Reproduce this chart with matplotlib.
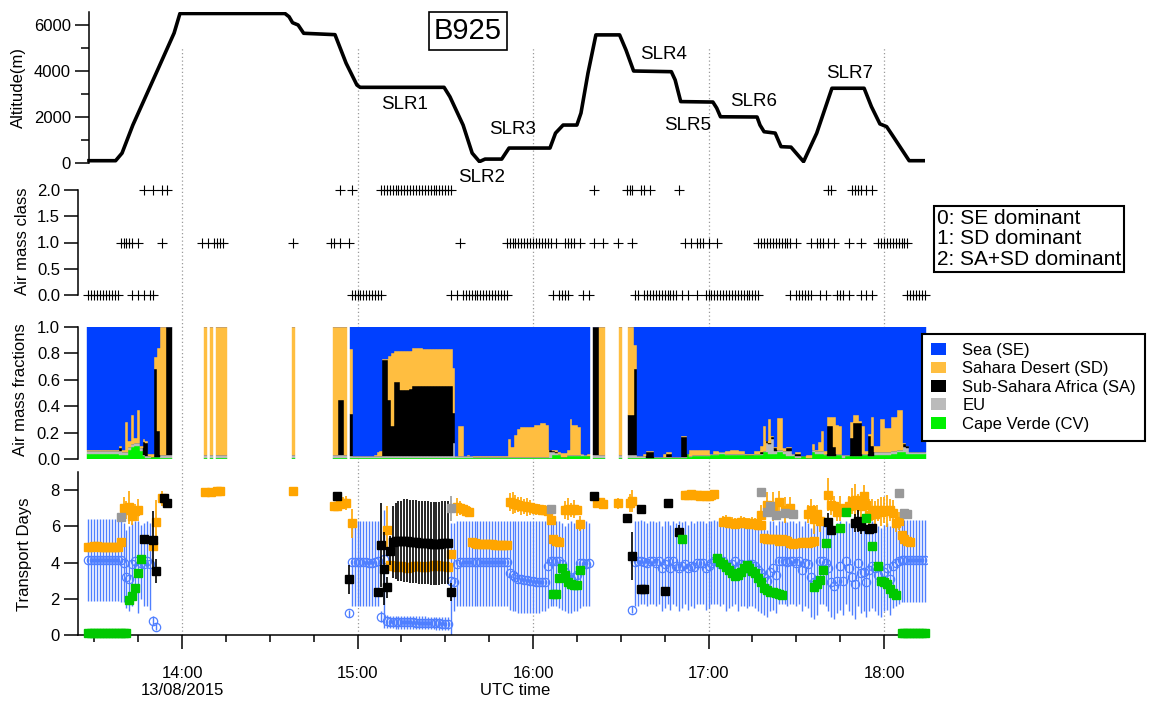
import numpy as np
import matplotlib.pyplot as plt
from matplotlib.lines import Line2D
from matplotlib.patches import Patch
from matplotlib.ticker import MultipleLocator, FormatStrFormatter
from matplotlib.transforms import blended_transform_factory

plt.rcParams['font.family'] = ['Liberation Sans', 'DejaVu Sans']
plt.rcParams['font.size'] = 12

n = np.nan

# ---- flight altitude (minutes after 13:00 UTC, metres) ----
alt_min = [28.2, 37.3, 39.5, 43.2, 52.1, 57.3, 59.3, 95.2, 96.6, 97.8, 99.7, 101.6, 112.3, 116.1,
           119.8, 120.9, 149.6, 151.6, 156.1, 159.2, 161.7, 163.6, 169.3, 171.8, 185.8, 187.7,
           190.3, 195.0, 196.4, 198.8, 201.5, 209.6, 211.8, 214.4, 227.3, 228.6, 230.5, 241.5,
           242.8, 244.1, 256.6, 257.6, 259.0, 262.8, 264.8, 268.2, 272.5, 277.0, 282.2, 293.2,
           295.7, 298.6, 300.9, 302.8, 308.6, 313.4]
alt_m = [100, 100, 430, 1650, 4170, 5650, 6500, 6500, 6360, 6100, 6000, 5640, 5580, 4340,
         3390, 3290, 3290, 2880, 1650, 430, 60, 170, 170, 650, 650, 1300,
         1650, 1650, 2170, 3910, 5570, 5570, 4910, 4000, 3970, 3610, 2670, 2650,
         2390, 2010, 2000, 1650, 1360, 1300, 710, 690, 60, 1300, 3250, 3250,
         2450, 1700, 1580, 1220, 100, 100]

# ---- air mass class (minutes after 13:00) ----
class0_min = [28, 29, 30, 31, 32, 33, 34, 35, 36, 37, 38, 43, 45, 47, 49, 50,
              118, 119, 120, 121, 122, 123, 124, 125, 126, 127, 128, 152,
              154, 156, 157, 158, 159, 160, 161, 162, 163, 164, 165, 166, 167, 168, 169, 170, 171,
              187, 189, 190, 191, 192, 197, 199, 215, 216,
              218, 219, 220, 221, 222, 223, 224, 225, 226, 227, 228, 229, 231, 233, 236, 239,
              240, 241, 242, 243, 244, 245, 246, 247, 248, 249, 250, 251, 252, 253, 254, 255, 256, 257,
              268, 270, 271, 272, 273, 274, 275, 278, 280, 284, 285, 286, 288, 292, 294, 296,
              308, 309, 310, 311, 312, 313, 314]
class1_min = [39, 40, 41, 42, 43, 45, 53, 67, 69, 71, 72, 73, 74, 98,
              111, 112, 114, 117, 155,
              171, 172, 173, 174, 175, 176, 177, 178, 179, 180, 181, 182, 183, 184, 185, 186, 188,
              191, 192, 193, 194, 196, 201, 204, 209, 214,
              232, 234, 236, 237, 238, 240, 243,
              257, 258, 259, 260, 261, 262, 263, 264, 265, 266, 267, 268, 270,
              275, 277, 278, 279, 281, 283, 288, 292,
              298, 299, 300, 301, 302, 303, 304, 305, 306, 307, 308]
class2_min = [47, 50, 53, 55, 114, 118,
              128, 129, 130, 131, 132, 133, 134, 135, 136, 137, 138, 139, 140, 141, 142, 143,
              144, 145, 146, 147, 148, 149, 150, 151, 152,
              201, 212, 213, 214, 217, 218, 220, 230,
              281, 282, 289, 290, 291, 292, 294, 296]

# ---- air mass fractions, one value per minute from 13:28 to 18:14 ----
frac_cv = [
    .04, .04, .04, .04, .04, .04, .04, .04, .04, .04,       # 13:28
    .04, .03, .03, .03, .07, .09, .10, .10, .06, .02,       # 13:38
    .01, .01, .015, .015, .015, .01, .01, .01, .01, n,      # 13:48
    n, n, n, n, n, n, n, n, n, n,                           # 13:58
    .01, n, .01, n, .01, .01, .01, .01, n, n,               # 14:08
    n, n, n, n, n, n, n, n, n, n,                           # 14:18
    n, n, n, n, n, n, n, n, n, n,                           # 14:28
    .01, n, n, n, n, n, n, n, n, n,                         # 14:38
    n, n, n, n, .01, .01, .01, .01, .01, n,                 # 14:48
    .01, .01, .01, .01, .01, .01, .01, .01, .01, .01,       # 14:58
    .01, .01, .01, .01, .01, .01, .01, .01, .01, .01,       # 15:08
    .01, .01, .01, .01, .01, .01, .01, .01, .01, .01,       # 15:18
    .01, .01, .01, .01, .01, .01, .01, .01, .01, .01,       # 15:28
    .01, .01, .005, .005, .005, .005, .005, .005, .005, .005,  # 15:38
    .005, .005, .005, .005, .005, .005, .005, .005, .005, .005,  # 15:48
    .005, .005, .005, .005, .005, .005, .005, .005, .005, .03,  # 15:58
    .03, .03, .018, .018, .02, .02, .02, .02, .02, .02,     # 16:08
    .02, .02, n, .01, .01, .01, .01, n, n, n,               # 16:18
    n, n, .01, n, n, .01, .01, .01, .01, .01,               # 16:28
    .01, .005, .005, .005, .005, .005, .005, .005, .005, .005,  # 16:38
    .005, .005, .005, .005, .005, .04, .015, .02, .02, .02,  # 16:48
    .02, .02, .02, .03, .03, .03, .035, .035, .03, .03,     # 16:58
    .03, .03, .03, .03, .03, .03, .03, .03, .03, .03,       # 17:08
    .03, .05, .05, .04, .04, .04, .05, .05, .04, .02,       # 17:18
    .02, .02, .01, .01, .02, .02, .01, .01, .05, .04,       # 17:28
    .04, .04, .03, .02, .02, .02, .03, .03, .01, .02,       # 17:38
    .02, .02, .02, .02, .02, .03, .03, .02, .02, .03,       # 17:48
    .03, .03, .03, .03, .03, .04, .04, .05, .05, .05,       # 17:58
    .04, .035, .035, .035, .035, .035, .035]                # 18:08
frac_eu = [
    .02, .02, .02, .02, .02, .02, .02, .02, .02, .02,
    .02, .03, .02, .02, .02, .02, .02, .02, .02, .01,
    .01, .01, 0, 0, 0, .02, .02, .02, .02, n,
    n, n, n, n, n, n, n, n, n, n,
    .02, n, .02, n, .02, .02, .02, .02, n, n,
    n, n, n, n, n, n, n, n, n, n,
    n, n, n, n, n, n, n, n, n, n,
    .02, n, n, n, n, n, n, n, n, n,
    n, n, n, n, .02, .02, .02, .02, .02, n,
    .01, .01, .01, .01, .01, .01, .01, .01, .01, .01,
    .01, .01, .01, .01, .01, .01, .01, .01, .01, .01,
    .01, .01, .01, .01, .01, .01, .01, .01, .01, .01,
    .01, .01, .01, .01, .01, .11, .01, .01, .01, .01,
    .01, .01, .01, .01, .01, .01, .01, .01, .01, .01,
    .01, .01, .01, .01, .01, .01, .01, .01, .01, .01,
    .01, .01, .01, .01, .01, .01, .01, .01, .05, .02,
    .015, .01, 0, 0, .01, .01, .01, .01, .01, .02,
    .01, 0, n, .02, .02, .02, .02, n, n, n,
    n, n, .02, n, n, .02, .02, .02, .01, .01,
    .01, .005, .005, .005, .01, .01, .01, .01, .01, .01,
    .01, .01, .01, .01, .01, 0, .01, .01, .01, .01,
    .01, .01, .01, .01, .01, .01, .02, .02, .01, .01,
    .01, .01, .01, .01, .01, 0, 0, 0, .01, .01,
    .01, .01, .07, .07, .11, .02, .02, .02, .02, .04,
    .04, .02, .01, .01, 0, 0, 0, 0, .02, .02,
    .02, .02, .01, 0, 0, 0, .01, .01, .02, .01,
    .01, 0, 0, 0, 0, .01, .01, 0, 0, .02,
    .02, .02, .02, .02, .02, .02, .02, .02, .02, .04,
    .04, .015, .015, .015, .015, .015, .015]
frac_sa = [
    0, 0, 0, 0, 0, 0, 0, 0, 0, 0,
    0, .02, 0, 0, 0, 0, 0, 0, 0, .10,
    .10, 0, 0, .665, .195, 0, 0, .97, .97, n,
    n, n, n, n, n, n, n, n, n, n,
    0, n, 0, n, 0, 0, 0, 0, n, n,
    n, n, n, n, n, n, n, n, n, n,
    n, n, n, n, n, n, n, n, n, n,
    0, n, n, n, n, n, n, n, n, n,
    n, n, n, n, 0, 0, .42, .42, 0, n,
    .32, 0, 0, 0, 0, 0, 0, 0, 0, 0,
    0, .73, .73, .43, .23, .56, .56, .50, .50, .50,
    .51, .53, .53, .53, .53, .535, .535, .535, .535, .535,
    .53, .53, .53, .53, .53, .23, 0, 0, 0, 0,
    0, 0, 0, 0, 0, 0, 0, 0, 0, 0,
    0, 0, 0, 0, 0, 0, 0, 0, 0, 0,
    0, 0, 0, 0, 0, 0, 0, 0, .015, .01,
    .01, 0, 0, 0, 0, 0, 0, 0, 0, 0,
    0, 0, n, .97, .97, 0, 0, n, n, n,
    n, n, 0, n, n, .30, .30, .65, 0, 0,
    0, .04, .04, .04, 0, 0, 0, 0, .02, .02,
    0, 0, 0, .15, .15, 0, 0, 0, 0, 0,
    0, 0, 0, 0, 0, 0, 0, 0, 0, 0,
    0, 0, 0, 0, 0, 0, 0, 0, 0, 0,
    .01, 0, .02, .01, .015, .02, 0, 0, 0, .02,
    .02, 0, .02, .02, 0, 0, 0, 0, 0, 0,
    0, 0, 0, .23, .23, .07, 0, 0, 0, 0,
    0, .14, .25, .25, .25, 0, 0, .155, .08, 0,
    0, 0, 0, 0, 0, 0, 0, 0, 0, .02,
    .015, 0, 0, 0, 0, 0, 0]
frac_sd = [
    .01, .01, .01, .01, .01, .01, .01, .01, .01, .01,
    .01, .02, .02, .23, .05, .22, .04, .25, .02, .02,
    .02, .02, .02, .09, .63, .97, .97, 0, 0, n,
    n, n, n, n, n, n, n, n, n, n,
    .97, n, .97, n, .97, .97, .97, .97, n, n,
    n, n, n, n, n, n, n, n, n, n,
    n, n, n, n, n, n, n, n, n, n,
    .97, n, n, n, n, n, n, n, n, n,
    n, n, n, n, .97, .97, .55, .55, .97, n,
    .495, 0, 0, 0, 0, 0, 0, 0, .01, .035,
    .04, .01, .01, .33, .55, .24, .24, .30, .30, .30,
    .29, .29, .29, .29, .29, .275, .275, .275, .275, .275,
    .285, .285, .285, .285, .285, .34, 0, .23, .23, 0,
    .01, 0, .005, .005, .005, .005, .005, .005, .005, .005,
    .005, .005, .005, .005, .135, .075, .165, .21, .225, .225,
    .225, .225, .225, .24, .24, .26, .26, .245, 0, .01,
    .015, .01, .03, .03, .04, .27, .23, .23, .215, 0,
    0, .02, n, 0, 0, .97, .97, n, n, n,
    n, n, .97, n, n, .67, .67, .18, 0, 0,
    .02, .01, .01, .01, 0, 0, 0, .02, .02, .02,
    0, 0, 0, .01, .01, 0, .045, .04, .04, .04,
    .04, .04, .04, 0, .02, .02, 0, 0, .02, .02,
    .03, .03, .03, .02, .02, .01, .01, .01, .02, .02,
    .05, .19, 0, .18, .01, .01, .24, .24, .02, .01,
    .01, 0, .01, .01, 0, 0, .02, .02, .04, .01,
    .07, .15, .02, .07, .07, .23, .22, .21, 0, 0,
    0, .12, .06, .06, .02, .21, .02, .015, .22, .045,
    .045, .25, .25, .185, .185, .26, .26, .30, .30, .01,
    0, 0, 0, 0, 0, 0, 0]

# ---- transport days, Sea (SE) on the same one-minute grid: value, bar top, bar bottom ----
se_days = [
    4.15, 4.15, 4.15, 4.15, 4.15, 4.15, 4.15, 4.15, 4.15, 4.15,
    4.15, 4.15, 4.0, 3.2, 3.1, 3.9, 4.1, 3.8, 4.0, 3.9,
    4.1, 3.9, 0.8, 0.45, n, n, n, n, n, n,
    n, n, n, n, n, n, n, n, n, n,
    n, n, n, n, n, n, n, n, n, n,
    n, n, n, n, n, n, n, n, n, n,
    n, n, n, n, n, n, n, n, n, n,
    n, n, n, n, n, n, n, n, n, n,
    n, n, n, n, n, n, n, n, n, 1.2,
    4.05, 4.05, 4.05, 4.05, 4.05, 4.05, 4.0, 4.0, 4.05, 4.1,
    1.0, 4.2, 0.75, 0.72, 0.72, 0.7, 0.7, 0.7, 0.7, 0.7,
    0.7, 0.7, 0.68, 0.68, 0.68, 0.68, 0.66, 0.66, 0.66, 0.65,
    0.65, 0.63, 0.62, 0.62, 3.0, 2.95, 3.9, 4.05, 4.05, 4.05,
    4.05, 4.05, 4.05, 4.05, 4.05, 4.05, 4.05, 4.05, 4.05, 4.05,
    4.05, 4.05, 4.05, 4.05, 3.4, 3.3, 3.2, 3.1, 3.1, 3.05,
    3.05, 3.0, 3.0, 2.95, 2.9, 2.9, 2.9, 3.8, 4.1, 4.1,
    4.1, 4.1, 3.9, 3.5, 3.2, 3.1, 3.2, 3.3, 4.0, 4.0,
    3.9, 4.0, n, n, n, n, n, n, n, n,
    n, n, n, n, n, n, 1.4, 4.05, 4.1, 4.1,
    4.05, 3.95, 4.1, 4.1, 4.0, 4.1, 3.7, 3.9, 4.1, 3.7,
    4.1, 3.8, 3.7, 3.8, 3.9, 3.7, 3.8, 3.75, 3.95, 4.0,
    3.95, 3.7, 3.8, 4.0, 4.1, 4.1, 3.9, 4.1, 3.75, 3.8,
    3.9, 4.1, 3.7, 3.9, 3.85, 3.8, 3.9, 3.9, 3.8, 3.6,
    3.4, 3.2, 3.0, 3.5, 3.7, 3.3, 4.1, 4.1, 4.1, 4.05,
    4.1, 4.1, 4.0, 4.1, 3.6, 4.0, 3.9, 3.2, 2.9, 3.0,
    4.1, 4.1, 4.0, 3.7, 2.9, 2.7, 3.0, 3.8, 3.0, 4.1,
    3.7, 3.2, 2.8, 4.0, 3.4, 3.5, 2.9, 3.6, 3.8, 3.7,
    3.3, 3.0, 3.5, 3.7, 3.1, 3.8, 4.0, 4.1, 4.15, 4.15,
    4.15, 4.15, 4.15, 4.15, 4.15, 4.15, 4.15]
se_hi = [
    6.4, 6.4, 6.4, 6.4, 6.4, 6.4, 6.4, 6.4, 6.4, 6.4,
    6.4, 6.4, 6.2, 5.8, 6.0, 6.2, 6.3, 6.3, 6.1, 6.2,
    6.3, 6.2, 1.05, 0.65, n, n, n, n, n, n,
    n, n, n, n, n, n, n, n, n, n,
    n, n, n, n, n, n, n, n, n, n,
    n, n, n, n, n, n, n, n, n, n,
    n, n, n, n, n, n, n, n, n, n,
    n, n, n, n, n, n, n, n, n, n,
    n, n, n, n, n, n, n, n, n, 1.4,
    6.3, 6.3, 6.3, 6.3, 6.3, 6.3, 6.3, 6.3, 6.3, 6.3,
    1.3, 6.9, 1.1, 1.07, 1.07, 1.05, 1.05, 1.05, 1.05, 1.05,
    1.05, 1.05, 1.03, 1.03, 1.03, 1.03, 1.0, 1.0, 1.0, 1.0,
    1.0, 0.98, 0.97, 0.97, 6.2, 6.2, 6.3, 6.3, 6.3, 6.3,
    6.3, 6.3, 6.3, 6.3, 6.3, 6.3, 6.3, 6.3, 6.3, 6.3,
    6.3, 6.3, 6.3, 6.3, 6.3, 6.3, 6.3, 6.3, 6.3, 6.3,
    6.3, 6.3, 6.3, 6.3, 6.3, 6.3, 6.3, 6.3, 6.3, 6.3,
    6.3, 6.3, 6.2, 6.0, 6.2, 6.3, 6.2, 6.1, 6.3, 6.2,
    6.3, 6.2, n, n, n, n, n, n, n, n,
    n, n, n, n, n, n, 1.6, 6.3, 6.3, 6.35,
    6.3, 6.2, 6.3, 6.3, 6.25, 6.3, 6.0, 6.3, 6.3, 6.1,
    6.3, 6.2, 6.3, 6.25, 6.3, 6.1, 6.3, 6.2, 6.3, 6.3,
    6.3, 6.2, 6.3, 6.3, 6.35, 6.3, 6.3, 6.2, 6.3, 6.1,
    6.3, 6.3, 6.2, 6.3, 6.3, 6.2, 6.3, 6.3, 6.25, 6.1,
    6.0, 6.2, 5.8, 6.3, 6.3, 6.1, 6.3, 6.3, 6.3, 6.25,
    6.3, 6.3, 6.2, 6.3, 6.0, 6.3, 6.2, 5.9, 6.1, 6.2,
    6.3, 6.3, 6.2, 6.3, 5.9, 6.0, 6.2, 6.3, 6.0, 6.3,
    6.2, 6.0, 5.8, 6.3, 6.1, 6.2, 5.9, 6.2, 6.3, 6.2,
    6.0, 5.9, 6.1, 6.2, 6.0, 6.3, 6.3, 6.35, 6.35, 6.35,
    6.35, 6.35, 6.35, 6.35, 6.35, 6.35, 6.35]
se_lo = [
    1.9, 1.9, 1.9, 1.9, 1.9, 1.9, 1.9, 1.9, 1.9, 1.9,
    1.9, 1.8, 1.8, 1.5, 1.3, 1.6, 2.0, 1.2, 2.0, 1.6,
    1.6, 1.4, 0.55, 0.25, n, n, n, n, n, n,
    n, n, n, n, n, n, n, n, n, n,
    n, n, n, n, n, n, n, n, n, n,
    n, n, n, n, n, n, n, n, n, n,
    n, n, n, n, n, n, n, n, n, n,
    n, n, n, n, n, n, n, n, n, n,
    n, n, n, n, n, n, n, n, n, 1.0,
    1.6, 1.6, 1.6, 1.6, 1.6, 1.6, 1.6, 1.6, 1.6, 1.6,
    0.7, 0.4, 0.4, 0.37, 0.37, 0.35, 0.35, 0.35, 0.35, 0.35,
    0.35, 0.35, 0.33, 0.33, 0.33, 0.33, 0.32, 0.32, 0.32, 0.3,
    0.3, 0.3, 0.28, 0.28, 0.0, 1.3, 1.6, 1.6, 1.6, 1.6,
    1.6, 1.6, 1.6, 1.6, 1.6, 1.6, 1.6, 1.6, 1.6, 1.6,
    1.6, 1.6, 1.6, 1.6, 1.4, 1.3, 1.3, 1.2, 1.2, 1.2,
    1.2, 1.2, 1.2, 1.2, 1.2, 1.3, 1.3, 1.5, 1.6, 1.6,
    1.6, 1.5, 1.4, 1.3, 1.2, 1.2, 1.3, 1.3, 1.5, 1.6,
    1.6, 1.6, n, n, n, n, n, n, n, n,
    n, n, n, n, n, n, 1.2, 1.6, 1.6, 1.7,
    1.7, 1.6, 1.7, 1.7, 1.6, 1.7, 1.3, 1.5, 1.7, 1.4,
    1.7, 1.6, 1.3, 1.5, 1.7, 1.4, 1.6, 1.5, 1.7, 1.7,
    1.7, 1.4, 1.5, 1.7, 1.7, 1.7, 1.6, 1.7, 1.3, 1.5,
    1.6, 1.7, 1.3, 1.6, 1.6, 1.5, 1.6, 1.6, 1.5, 1.3,
    1.2, 1.1, 1.0, 1.3, 1.4, 1.2, 1.7, 1.7, 1.7, 1.6,
    1.7, 1.7, 1.6, 1.7, 1.3, 1.6, 1.5, 1.0, 0.9, 1.1,
    1.7, 1.7, 1.6, 1.3, 1.0, 0.9, 1.2, 1.4, 1.1, 1.7,
    1.3, 1.1, 0.9, 1.6, 1.2, 1.3, 1.0, 1.3, 1.5, 1.3,
    1.1, 1.0, 1.3, 1.4, 1.1, 1.5, 1.6, 1.7, 1.8, 1.8,
    1.8, 1.8, 1.8, 1.8, 1.8, 1.8, 1.8]

# ---- transport days, Sahara Desert (SD) ----
sd_min = [28, 29, 30, 31, 32, 33, 34, 35, 36, 37, 38, 39,
          40, 41, 42, 43, 44, 45, 50, 51, 53,
          68, 70, 72, 73, 98,
          112, 113, 114, 115, 116, 118, 130,
          131, 132, 133, 134, 135, 136, 137, 138, 139, 140, 141, 142, 143, 144, 145, 146, 147,
          148, 149, 150, 151,
          152, 154, 155, 156, 157, 158,
          159, 160, 161, 162, 163, 164, 165, 166, 167, 168, 169, 170, 171,
          172, 173, 174, 175, 176, 177, 178, 179, 180,
          181, 182, 183, 184, 185, 186, 187, 188, 189,
          191, 192, 193, 194, 195, 196,
          202, 203, 204, 209, 213, 214,
          232, 233, 234, 235, 236, 237, 238, 239, 240, 241, 242,
          245, 246, 247, 248, 249, 250, 251, 252, 253, 254, 255, 256, 257, 258,
          259, 260, 261, 262, 263, 264, 265, 266, 267, 268, 269, 270, 271, 272, 273, 274, 275, 276,
          258, 260, 262, 264, 266, 268,
          274, 275, 276, 277, 278, 281, 282, 283, 284, 285,
          288, 289, 290, 291, 292, 293, 294, 295, 296,
          297, 298, 299, 300, 301, 302, 303, 304, 305,
          306, 307, 308, 309]
sd_days = [4.85, 4.85, 4.9, 4.9, 4.85, 4.85, 4.85, 4.85, 4.85, 4.85, 4.85, 5.15,
           7.0, 6.9, 7.05, 6.55, 6.85, 6.9, 4.9, 6.25, 7.55,
           7.88, 7.92, 7.95, 7.95, 7.96,
           7.13, 7.15, 7.25, 7.3, 7.3, 6.17, 5.8,
           3.85, 3.8, 3.75, 3.8, 3.8, 3.75, 3.7, 3.75, 3.8, 3.8, 3.8, 3.75, 3.75, 3.8, 3.8, 3.85, 3.85,
           3.8, 3.8, 3.8, 3.75,
           4.5, 7.05, 7.0, 6.95, 6.85, 6.8,
           5.16, 5.1, 5.05, 5.0, 5.0, 5.0, 5.0, 5.0, 4.98, 4.98, 4.98, 4.98, 4.98,
           7.35, 7.3, 7.25, 7.2, 7.1, 7.1, 7.05, 7.05, 7.0,
           6.95, 6.95, 6.9, 6.9, 6.85, 6.35, 5.3, 5.2, 5.16,
           6.9, 6.95, 6.9, 6.95, 6.9, 6.15,
           7.3, 7.35, 7.25, 7.27, 7.3, 7.4,
           7.75, 7.75, 7.8, 7.75, 7.75, 7.7, 7.75, 7.7, 7.7, 7.75, 7.8,
           6.25, 6.3, 6.2, 6.2, 6.15, 6.2, 6.25, 6.2, 6.2, 6.15, 6.2, 6.15, 6.1, 6.1,
           5.35, 5.3, 5.3, 5.3, 5.3, 5.2, 5.3, 5.25, 5.2, 5.1, 5.05, 5.1, 5.1, 5.15, 5.15, 5.1, 5.15, 5.2,
           6.6, 7.2, 7.1, 7.35, 6.9, 7.0,
           6.7, 6.9, 6.4, 6.7, 6.3, 7.75, 7.2, 7.1, 6.8, 7.0,
           7.1, 7.4, 7.45, 7.2, 7.1, 7.7, 7.2, 6.6, 6.9,
           6.7, 6.9, 6.8, 6.9, 6.85, 6.9, 6.75, 6.2, 6.3,
           5.5, 5.3, 5.2, 5.15]
sd_err = [0.05, 0.05, 0.05, 0.05, 0.05, 0.05, 0.05, 0.05, 0.05, 0.05, 0.05, 0.1,
          0.6, 0.5, 0.9, 0.5, 0.4, 0.6, 0.1, 1.2, 0.4,
          0.05, 0.05, 0.05, 0.05, 0.05,
          0.1, 0.1, 0.2, 0.3, 0.4, 0.8, 1.3,
          0.15, 0.15, 0.15, 0.15, 0.15, 0.15, 0.15, 0.15, 0.15, 0.15, 0.15, 0.15, 0.15, 0.15, 0.15,
          0.15, 0.15, 0.15, 0.15, 0.15, 0.15,
          0.2, 0.5, 0.4, 0.3, 0.3, 0.3,
          0.1, 0.1, 0.1, 0.1, 0.1, 0.1, 0.1, 0.1, 0.1, 0.1, 0.1, 0.1, 0.1,
          0.5, 0.6, 0.5, 0.4, 0.5, 0.4, 0.5, 0.4, 0.3,
          0.3, 0.3, 0.2, 0.3, 0.2, 0.3, 0.1, 0.1, 0.1,
          0.5, 0.6, 0.4, 0.5, 0.3, 0.4,
          0.2, 0.2, 0.2, 0.3, 0.5, 0.6,
          0.1, 0.1, 0.1, 0.1, 0.1, 0.1, 0.1, 0.1, 0.1, 0.1, 0.1,
          0.3, 0.3, 0.25, 0.3, 0.3, 0.25, 0.3, 0.3, 0.25, 0.3, 0.3, 0.3, 0.25, 0.3,
          0.1, 0.1, 0.1, 0.1, 0.1, 0.1, 0.1, 0.1, 0.1, 0.1, 0.1, 0.1, 0.1, 0.1, 0.1, 0.1, 0.1, 0.1,
          0.6, 0.7, 0.8, 0.6, 0.7, 0.6,
          0.5, 0.6, 0.8, 0.5, 0.6, 0.9, 0.6, 0.6, 0.5, 0.7,
          0.6, 0.7, 0.9, 0.6, 0.8, 0.6, 0.7, 0.9, 0.6,
          0.7, 0.6, 0.8, 0.7, 0.9, 0.6, 0.7, 0.5, 0.5,
          0.2, 0.15, 0.1, 0.1]

# ---- transport days, Sub-Sahara Africa (SA) ----
sa_min = [47, 50, 51, 54, 55, 113, 117, 127, 128, 129, 130, 131,
          132, 133, 134, 135, 136, 137, 138, 139, 140, 141, 142, 143, 144, 145, 146, 147,
          148, 149, 150, 151,
          152, 201, 212, 214, 217, 218, 217, 225, 226, 230,
          281, 282, 290, 291, 292, 295, 296]
sa_days = [5.28, 5.22, 3.54, 7.55, 7.3, 7.68, 3.08, 2.36, 4.97, 3.66, 2.63, 4.64,
           5.15, 5.2, 5.2, 5.2, 5.2, 5.2, 5.15, 5.15, 5.15, 5.1, 5.1, 5.1, 5.1, 5.05, 5.05, 5.05,
           5.05, 5.1, 5.1, 5.1,
           2.36, 7.7, 6.48, 4.36, 2.52, 2.52, 6.98, 2.43, 7.31, 5.71,
           6.26, 5.8, 6.2, 6.3, 6.0, 5.84, 5.9]
sa_err = [0.25, 1.6, 0.65, 0.2, 0.3, 0.1, 0.8, 0.1, 2.3, 2.0, 0.6, 0.8,
          2.0, 2.1, 2.2, 2.2, 2.3, 2.3, 2.3, 2.3, 2.3, 2.3, 2.3, 2.3, 2.3, 2.3, 2.3, 2.3,
          2.3, 2.3, 2.3, 2.3,
          0.5, 0.1, 0.1, 1.3, 0.1, 0.1, 0.1, 0.1, 0.1, 0.35,
          0.5, 0.2, 0.5, 0.6, 0.4, 0.25, 0.2]

# ---- transport days, EU ----
eu_min = [39, 152, 186, 258, 260, 261, 263, 266, 269, 305, 307, 308]
eu_days = [6.54, 7.0, 6.94, 7.92, 6.81, 7.13, 6.63, 6.76, 6.67, 7.86, 6.76, 6.67]
eu_err = [0.1, 0.7, 0.1, 0.1, 0.2, 0.2, 0.1, 0.2, 0.1, 0.1, 0.1, 0.1]

# ---- transport days, Cape Verde (CV) ----
cv_min = [28, 29, 30, 31, 32, 33, 34, 35, 36, 37, 38, 39, 40, 41,
          42, 43, 44, 45, 46,
          187, 188, 189, 190, 191, 192, 193, 194, 195, 196, 231,
          243, 244, 245, 246, 247, 248, 249, 250, 251, 252, 253, 254, 255, 256, 257, 258,
          259, 260, 261, 262, 263, 264, 265,
          276, 277, 278, 279, 280, 285, 287, 294, 296, 298, 299, 300, 301, 302, 303, 304,
          306, 307, 308, 309, 310, 311, 312, 313, 314]
cv_days = [0.13, 0.13, 0.13, 0.13, 0.13, 0.13, 0.13, 0.13, 0.13, 0.13, 0.13, 0.13, 0.13, 0.13,
           1.93, 2.17, 2.58, 3.44, 4.22,
           2.25, 2.25, 3.15, 3.72, 3.3, 2.9, 2.8, 2.75, 2.75, 3.6, 5.3,
           4.24, 4.05, 3.9, 3.75, 3.6, 3.45, 3.25, 3.3, 3.5, 3.7, 3.85, 3.7, 3.55, 3.4, 3.15, 2.95,
           2.6, 2.5, 2.4, 2.35, 2.3, 2.25, 2.2,
           2.65, 2.8, 3.05, 3.6, 5.1, 5.9, 6.8, 6.45, 4.92, 3.8, 3.0, 2.95, 2.8, 2.55, 2.3, 2.2,
           0.12, 0.12, 0.12, 0.12, 0.12, 0.12, 0.12, 0.12, 0.12]

hour_ticks = [14, 15, 16, 17, 18]
hour_labels = ['14:00\n13/08/2015', '15:00', '16:00', '17:00', '18:00']
frac_labels = ['Sea (SE)', 'Sahara Desert (SD)', 'Sub-Sahara Africa (SA)', 'EU', 'Cape Verde (CV)']
class_text = '0: SE dominant\n1: SD dominant\n2: SA+SD dominant'

# colours
C_SE, C_SD, C_SA, C_EU, C_CV = '#0040FF', '#FFBE40', 'black', '#BBBBBB', '#00F000'
C_SE4, C_SD4, C_EU4, C_CV4 = '#4F7FFF', '#FFA500', '#999999', '#00C800'


def hours(minutes):
    return 13 + np.asarray(minutes, dtype=float) / 60.0


grid = hours(np.arange(28, 315))

fig = plt.figure(figsize=(11.52, 7.04), dpi=100)
L, W = 78 / 1152, 849 / 1152
ax1 = fig.add_axes([L, 541 / 704, W, 150.65 / 704])
ax2 = fig.add_axes([L, 409 / 704, W, 105 / 704])
ax3 = fig.add_axes([L, 245 / 704, W, 132 / 704])
ax4 = fig.add_axes([L, 69 / 704, W, 163 / 704])

for ax in (ax1, ax2, ax3, ax4):
    ax.set_xlim(13.4074, 18.2450)
    ax.set_facecolor('none')
    ax.spines['top'].set_visible(False)
    ax.spines['right'].set_visible(False)
    ax.spines['left'].set_linewidth(1.1)
    ax.tick_params(axis='y', which='major', direction='out', length=10, width=1.1, pad=3, labelsize=12)
    ax.tick_params(axis='y', which='minor', direction='out', length=6, width=1.1)
for ax in (ax1, ax2, ax3):
    ax.spines['bottom'].set_visible(False)
    ax.tick_params(axis='x', which='both', bottom=False, labelbottom=False)

# dotted hour lines through all panels
trans = blended_transform_factory(ax4.transData, fig.transFigure)
for h in hour_ticks:
    fig.add_artist(Line2D([h, h], [69 / 704, 1 - 47 / 704], transform=trans, color='#9A9A9A',
                          lw=0.9, ls=(0, (1, 2)), zorder=-1))

# --- panel 1: altitude ---
ax1.plot(hours(alt_min), alt_m, color='black', lw=2.6, solid_joinstyle='round')
ax1.set_ylim(0, 6550)
ax1.yaxis.set_major_locator(MultipleLocator(2000))
ax1.yaxis.set_minor_locator(MultipleLocator(1000))
ax1.spines['left'].set_position(('axes', 0.0128))
for label, x, y in [('SLR1', 15.268, 2522), ('SLR2', 15.709, -609), ('SLR3', 15.886, 1435),
                    ('SLR4', 16.741, 4696), ('SLR5', 16.880, 1652), ('SLR6', 17.259, 2665),
                    ('SLR7', 17.806, 3870)]:
    ax1.text(x, y, label, ha='center', va='center', fontsize=13.5, clip_on=False)
fig.text(468 / 1152, 1 - 31 / 704, 'B925', ha='center', va='center', fontsize=21,
         bbox=dict(boxstyle='square,pad=0.18', fc='white', ec='black', lw=1.2))

# --- panel 2: air mass class ---
for cls, mins in ((0, class0_min), (1, class1_min), (2, class2_min)):
    ax2.plot(hours(mins), np.full(len(mins), cls), '+', color='black', ms=7, mew=0.8, clip_on=False)
ax2.set_ylim(0, 2)
ax2.yaxis.set_major_locator(MultipleLocator(0.5))
ax2.yaxis.set_major_formatter(FormatStrFormatter('%.1f'))
fig.text(937 / 1152, 1 - 239 / 704, class_text, ha='left', va='center', fontsize=15,
         linespacing=1.08, bbox=dict(boxstyle='square,pad=0.15', fc='white', ec='black', lw=1.5))

# --- panel 3: stacked air mass fractions ---
cv, eu, sa, sd = (np.array(a, dtype=float) for a in (frac_cv, frac_eu, frac_sa, frac_sd))
se = 1 - (cv + eu + sa + sd)
ok = np.isfinite(cv)
base = np.zeros(ok.sum())
for vals, col in ((cv, C_CV), (eu, C_EU), (sa, C_SA), (sd, C_SD), (se, C_SE)):
    ax3.bar(grid[ok], vals[ok], width=1 / 60, bottom=base, color=col, edgecolor=col, lw=0.3,
            align='center', zorder=2)
    base = base + vals[ok]
ax3.set_ylim(0, 1)
ax3.yaxis.set_major_locator(MultipleLocator(0.2))
ax3.yaxis.set_major_formatter(FormatStrFormatter('%.1f'))
handles = [Patch(facecolor=c, edgecolor='none') for c in (C_SE, C_SD, C_SA, C_EU, C_CV)]
leg = fig.legend(handles, frac_labels, loc='upper left', bbox_to_anchor=(921.6 / 1152, 1 - 334 / 704),
                 fontsize=12, handlelength=0.9, handleheight=0.7, handletextpad=1.0,
                 labelspacing=0.2, borderpad=0.55, borderaxespad=0, fancybox=False,
                 edgecolor='black', framealpha=1)
leg.get_frame().set_linewidth(1.5)

# --- panel 4: transport days ---
se_d = np.array(se_days, dtype=float)
m4 = np.isfinite(se_d)
se_yerr = [se_d[m4] - np.array(se_lo)[m4], np.array(se_hi)[m4] - se_d[m4]]
ax4.errorbar(grid[m4], se_d[m4], yerr=se_yerr, fmt='o', ms=6, mfc='none', mec=C_SE4, mew=0.9,
             ecolor=C_SE4, elinewidth=1.0, capsize=0, zorder=2)
ax4.errorbar(hours(sd_min), sd_days, yerr=sd_err, fmt='s', ms=6.2, color=C_SD4, mec=C_SD4,
             ecolor=C_SD4, elinewidth=1.2, capsize=0, zorder=3)
ax4.errorbar(hours(sa_min), sa_days, yerr=sa_err, fmt='s', ms=6.2, color='black',
             ecolor='black', elinewidth=1.2, capsize=0, zorder=4)
ax4.errorbar(hours(eu_min), eu_days, yerr=eu_err, fmt='s', ms=6.2, color=C_EU4,
             ecolor=C_EU4, elinewidth=1.2, capsize=0, zorder=4)
ax4.plot(hours(cv_min), cv_days, 's', ms=5.3, color=C_CV4, zorder=5, clip_on=False)
ax4.set_ylim(0, 9)
ax4.yaxis.set_major_locator(MultipleLocator(2))
ax4.spines['bottom'].set_linewidth(1.1)
ax4.set_xticks(hour_ticks)
ax4.set_xticklabels(hour_labels, fontsize=12, linespacing=1.2)
ax4.xaxis.set_minor_locator(MultipleLocator(0.25))
ax4.tick_params(axis='x', which='major', direction='out', length=10, width=1.1, pad=12)
ax4.tick_params(axis='x', which='minor', direction='out', length=5, width=1.1)
ax4.text(15.897, -0.34, 'UTC time', transform=blended_transform_factory(ax4.transData, ax4.transAxes),
         ha='center', va='center', fontsize=12)

# y-axis titles
for txt, x, y in [('Altitude(m)', 18.5, 88), ('Air mass class', 23, 241),
                  ('Air mass fractions', 21, 390), ('Transport Days', 25, 554)]:
    fig.text(x / 1152, 1 - y / 704, txt, rotation=90, ha='center', va='center', fontsize=12)

fig.savefig('out.png', dpi=100)
